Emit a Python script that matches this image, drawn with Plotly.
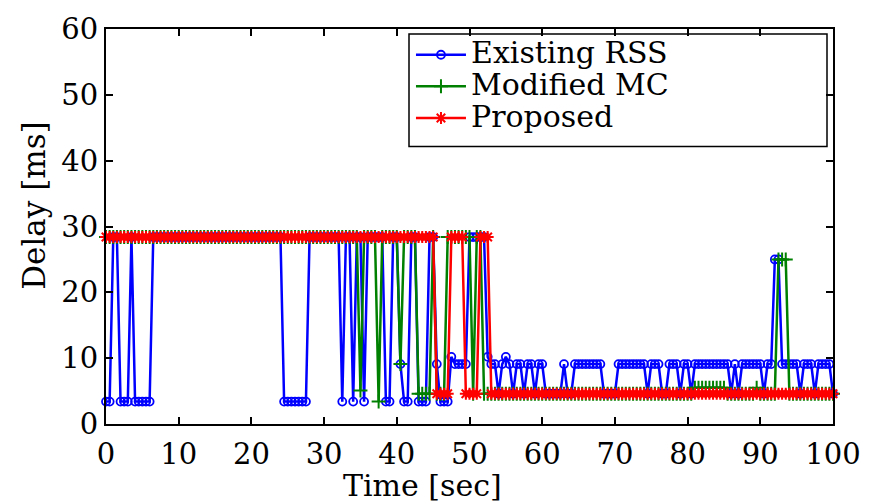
import plotly.graph_objects as go

# Delay levels observed in the chart (ms)
H, L, M, T, R, G, F, P = 28.4, 3.4, 9.1, 10.2, 4.6, 5.5, 5.1, 25.0

# Time samples every 0.5 s from 0 to 100 s
time_sec = [i * 0.5 for i in range(201)]

existing_rss = [
    L, L, H, H, L, L, L, H, L, L,
    L, L, L, H, H, H, H, H, H, H,
    H, H, H, H, H, H, H, H, H, H,
    H, H, H, H, H, H, H, H, H, H,
    H, H, H, H, H, H, H, H, H, L,
    L, L, L, L, L, L, H, H, H, H,
    H, H, H, H, H, L, H, H, L, H,
    H, L, H, H, H, H, H, L, L, H,
    H, M, L, L, H, H, L, L, L, H,
    H, M, L, L, L, T, M, M, M, M,
    H, H, H, H, H, T, M, M, R, M,
    T, M, R, M, M, R, M, M, R, M,
    M, R, R, R, R, R, M, R, R, M,
    M, M, M, M, M, M, M, R, R, R,
    R, M, M, M, M, M, M, M, M, R,
    M, M, M, R, R, M, M, M, R, M,
    M, R, M, M, M, M, M, M, M, M,
    M, M, R, M, R, M, M, M, M, M,
    M, R, M, M, P, P, M, M, M, M,
    M, R, M, M, M, R, M, M, M, M,
    R,
]

modified_mc = [
    H, H, H, H, H, H, H, H, H, H,
    H, H, H, H, H, H, H, H, H, H,
    H, H, H, H, H, H, H, H, H, H,
    H, H, H, H, H, H, H, H, H, H,
    H, H, H, H, H, H, H, H, H, H,
    H, H, H, H, H, H, H, H, H, H,
    H, H, H, H, H, H, H, H, H, H,
    F, H, H, H, H, L, H, H, H, H,
    H, M, H, H, H, H, R, R, R, R,
    H, R, R, R, H, H, H, H, H, H,
    H, R, H, H, R, R, R, R, R, R,
    R, R, R, R, R, R, R, R, R, R,
    R, R, R, R, R, R, R, R, R, R,
    R, R, R, R, R, R, R, R, R, R,
    R, R, R, R, R, R, R, R, R, R,
    R, R, R, R, R, R, R, R, R, R,
    R, R, G, G, G, G, G, G, G, G,
    G, R, R, R, R, R, R, R, R, G,
    R, R, R, R, R, P, P, P, R, R,
    R, R, R, R, R, R, R, R, R, R,
    R,
]

proposed = [
    H, H, H, H, H, H, H, H, H, H,
    H, H, H, H, H, H, H, H, H, H,
    H, H, H, H, H, H, H, H, H, H,
    H, H, H, H, H, H, H, H, H, H,
    H, H, H, H, H, H, H, H, H, H,
    H, H, H, H, H, H, H, H, H, H,
    H, H, H, H, H, H, H, H, H, H,
    H, H, H, H, H, H, H, H, H, H,
    H, H, H, H, H, H, H, H, H, H,
    H, R, R, R, R, H, H, H, H, R,
    R, R, R, H, H, H, R, R, R, R,
    R, R, R, R, R, R, R, R, R, R,
    R, R, R, R, R, R, R, R, R, R,
    R, R, R, R, R, R, R, R, R, R,
    R, R, R, R, R, R, R, R, R, R,
    R, R, R, R, R, R, R, R, R, R,
    R, R, R, R, R, R, R, R, R, R,
    R, R, R, R, R, R, R, R, R, R,
    R, R, R, R, R, R, R, R, R, R,
    R, R, R, R, R, R, R, R, R, R,
    R,
]

series_names = ["Existing RSS", "Modified MC", "Proposed"]
x_ticks = [0, 10, 20, 30, 40, 50, 60, 70, 80, 90, 100]
y_ticks = [0, 10, 20, 30, 40, 50, 60]

FONT = "DejaVu Serif"


def legend_label(name):
    # larger glyphs than the legend's row font so rows stay tightly packed
    return '<span style="font-size:30px">' + name + '</span>'


fig = go.Figure()
fig.add_trace(go.Scatter(
    x=time_sec, y=existing_rss, name=legend_label(series_names[0]), mode="lines+markers",
    line=dict(color="#0000FF", width=2.5),
    marker=dict(symbol="circle-open", size=8, color="#0000FF", line=dict(width=1.8, color="#0000FF")),
    cliponaxis=False,
))
fig.add_trace(go.Scatter(
    x=time_sec, y=modified_mc, name=legend_label(series_names[1]), mode="lines+markers",
    line=dict(color="#008000", width=2.5),
    marker=dict(symbol="cross-thin-open", size=10, color="#008000", line=dict(width=2, color="#008000")),
    cliponaxis=False,
))
fig.add_trace(go.Scatter(
    x=time_sec, y=proposed, name=legend_label(series_names[2]), mode="lines+markers",
    line=dict(color="#FF0000", width=2.5),
    marker=dict(symbol="asterisk-open", size=10, color="#FF0000", line=dict(width=2, color="#FF0000")),
    cliponaxis=False,
))

axis_common = dict(
    showline=True, linewidth=2, linecolor="black", mirror="ticks",
    ticks="inside", ticklen=7, tickwidth=1.5, tickcolor="black",
    showgrid=False, zeroline=False,
    tickfont=dict(family=FONT, size=29, color="black"),
)

# plot area in pixels: x 106..833, y 24..424
fig.update_layout(
    width=878, height=504,
    margin=dict(l=106, r=45, t=24, b=80),
    paper_bgcolor="white", plot_bgcolor="white",
    font=dict(family=FONT, size=29, color="black"),
    xaxis=dict(range=[0, 100], tickvals=x_ticks, ticktext=[str(v) for v in x_ticks],
               ticklabelstandoff=3, **axis_common),
    yaxis=dict(range=[0, 60], tickvals=y_ticks, ticktext=[str(v) for v in y_ticks], **axis_common),
    showlegend=True,
    legend=dict(
        x=0.4195, y=0.9875, xanchor="left", yanchor="top",
        bgcolor="rgba(0,0,0,0)", borderwidth=0,
        font=dict(family=FONT, size=22, color="black"),
        itemwidth=50, tracegroupgap=0,
    ),
    shapes=[
        # legend frame
        dict(type="rect", xref="paper", yref="paper",
             x0=(409 - 106) / 727, x1=(827 - 106) / 727,
             y0=(424 - 143) / 400, y1=(424 - 29) / 400,
             line=dict(color="black", width=1.5), fillcolor="white", layer="below"),
    ],
    annotations=[
        dict(text="Delay [ms]", textangle=-90, xref="paper", yref="paper",
             x=-0.099, y=0.5525, xanchor="center", yanchor="middle", showarrow=False,
             font=dict(family=FONT, size=31, color="black")),
        dict(text="Time [sec]", xref="paper", yref="paper",
             x=0.4347, y=-0.155, xanchor="center", yanchor="middle", showarrow=False,
             font=dict(family=FONT, size=30, color="black")),
    ],
)

fig.write_html("out.html")
